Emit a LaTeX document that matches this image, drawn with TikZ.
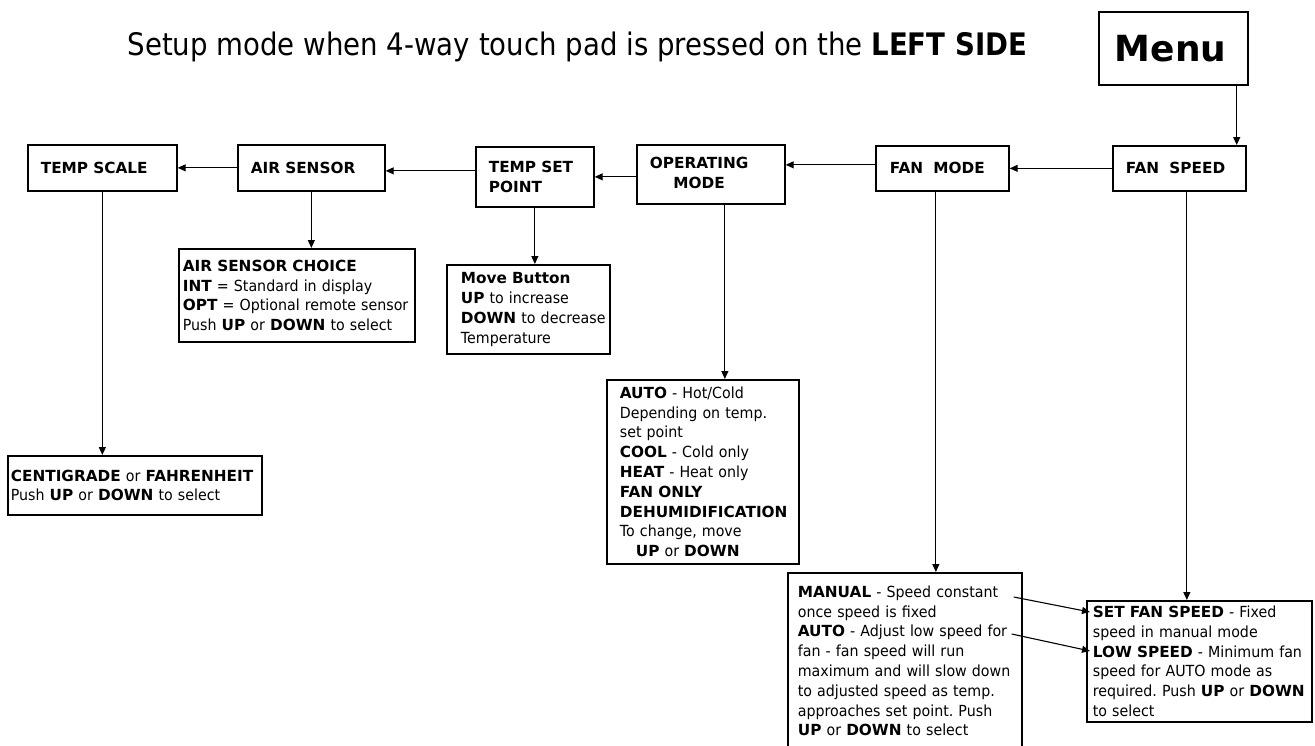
\documentclass[tikz,border=0pt]{standalone}
\usepackage{fontspec}
\setmainfont{DejaVu Sans}[UprightFeatures={FakeStretch=0.93}]
\newfontfamily\titlefont{DejaVu Sans}[FakeStretch=0.89]
\usetikzlibrary{arrows.meta}
\newcommand{\padtext}[2]{\leftskip=#1pt\relax #2\par}
\frenchspacing

\begin{document}
\begin{tikzpicture}[x=1pt, y=-1pt,
    box/.style={draw, line width=1.7pt, anchor=north west, align=left,
        inner xsep=0pt, inner ysep=0pt, font=\fontsize{15.3}{19.8}\selectfont},
    arr/.style={line width=1.1pt, -{Triangle[length=8pt, width=7pt]}}]
    \useasboundingbox (0,0) rectangle (1315,745);
    % Title and menu key.
    \node[anchor=base west, font=\titlefont\fontsize{31}{31}\selectfont] (title) at (124,55)
        {Setup mode when 4-way touch pad is pressed on the \textbf{LEFT SIDE}};
    \node[box, text width=149pt, minimum height=73pt, font=\bfseries\fontsize{36}{40}\selectfont]
        (menu) at (1098,11) {\padtext{16}{Menu}};

    % Top row of setup items.
    \node[box, text width=149pt, minimum height=46pt] (tscale) at (27,144) {\padtext{13}{\textbf{TEMP SCALE}}};
    \node[box, text width=147pt, minimum height=46pt] (airsens) at (237,144) {\padtext{13}{\textbf{AIR SENSOR}}};
    \node[box, text width=118pt, minimum height=60pt] (tsp) at (475,146) {\padtext{13}{\textbf{TEMP SET}\\\textbf{POINT}}};
    \node[box, text width=148pt, minimum height=59pt] (opmode) at (636,144)
        {\padtext{13}{\begin{tabular}{@{}c@{}}\textbf{OPERATING}\\\textbf{MODE}\end{tabular}}};
    \node[box, text width=133pt, minimum height=45pt] (fanmode) at (875,145) {\padtext{14}{\textbf{FAN\ \ MODE}}};
    \node[box, text width=133pt, minimum height=45pt] (fanspeed) at (1112,145) {\padtext{13}{\textbf{FAN\ \ SPEED}}};

    % Choices under each item.
    \node[box, text width=254pt, minimum height=59pt] (cfchoice) at (7,455)
        {\padtext{3}{\textbf{CENTIGRADE} or \textbf{FAHRENHEIT}\\
        Push \textbf{UP} or \textbf{DOWN} to select}};
    \node[box, text width=236pt, minimum height=93pt] (aschoice) at (178,248)
        {\padtext{4}{\textbf{AIR SENSOR CHOICE}\\
        \textbf{INT} = Standard in display\\
        \textbf{OPT} = Optional remote sensor\\
        Push \textbf{UP} or \textbf{DOWN} to select}};
    \node[box, text width=163pt, minimum height=89pt] (movebtn) at (446,264)
        {\padtext{14}{\textbf{Move Button}\\
        \textbf{UP} to increase\\
        \textbf{DOWN} to decrease\\
        Temperature}};
    \node[box, text width=192pt, minimum height=184pt] (opchoice) at (606,379)
        {\padtext{13}{\textbf{AUTO} - Hot/Cold\\
        Depending on temp.\\
        set point\\
        \textbf{COOL} - Cold only\\
        \textbf{HEAT} - Heat only\\
        \textbf{FAN ONLY}\\
        \textbf{DEHUMIDIFICATION}\\
        To change, move\\
        \hspace*{16pt}\textbf{UP} or \textbf{DOWN}}};
    \node[box, text width=234pt, minimum height=176pt] (fmchoice) at (787,572)
        {\padtext{10}{\textbf{MANUAL} - Speed constant\\
        once speed is fixed\\
        \textbf{AUTO} - Adjust low speed for\\
        fan - fan speed will run\\
        maximum and will slow down\\
        to adjusted speed as temp.\\
        approaches set point. Push\\
        \textbf{UP} or \textbf{DOWN} to select}};
    \node[box, text width=225pt, minimum height=121pt] (fschoice) at (1086,600)
        {\padtext{6}{\textbf{SET FAN SPEED} - Fixed\\
        speed in manual mode\\
        \textbf{LOW SPEED} - Minimum fan\\
        speed for AUTO mode as\\
        required. Push \textbf{UP} or \textbf{DOWN}\\
        to select}};

    % Flow along the top row.
    \draw[arr] ([xshift=-12pt]menu.south east) -- ([xshift=-12pt]menu.south east |- fanspeed.north);
    \draw[arr] (fanspeed.west) -- (fanspeed.west -| fanmode.east);
    \draw[arr] ([yshift=3.5pt]fanmode.west) -- ([yshift=3.5pt]fanmode.west -| opmode.east);
    \draw[arr] ([yshift=-2.5pt]opmode.west) -- ([yshift=-2.5pt]opmode.west -| tsp.east);
    \draw[arr] ([yshift=6pt]tsp.west) -- ([yshift=6pt]tsp.west -| airsens.east);
    \draw[arr] (airsens.west) -- (airsens.west -| tscale.east);

    % Down to the choices.
    \draw[arr] (tscale.south) -- (tscale.south |- cfchoice.north);
    \draw[arr] (airsens.south) -- (airsens.south |- aschoice.north);
    \draw[arr] (tsp.south) -- (tsp.south |- movebtn.north);
    \draw[arr] ([xshift=14pt]opmode.south) -- ([xshift=14pt]opmode.south |- opchoice.north);
    \draw[arr] ([xshift=-6.5pt]fanmode.south) -- ([xshift=-6.5pt]fanmode.south |- fmchoice.north);
    \draw[arr] ([xshift=7.5pt]fanspeed.south) -- ([xshift=7.5pt]fanspeed.south |- fschoice.north);

    % Fan mode lines to the fan speed settings.
    \coordinate (manend) at ([xshift=-9pt, yshift=-25pt]fmchoice.north east);
    \coordinate (autoend) at ([xshift=-11pt, yshift=-62pt]fmchoice.north east);
    \coordinate (setfan) at ([xshift=4pt, yshift=-12pt]fschoice.north west);
    \coordinate (lowfan) at ([xshift=4pt, yshift=-51pt]fschoice.north west);
    \draw[arr] (manend) -- (setfan);
    \draw[arr] (autoend) -- (lowfan);
\end{tikzpicture}
\end{document}
